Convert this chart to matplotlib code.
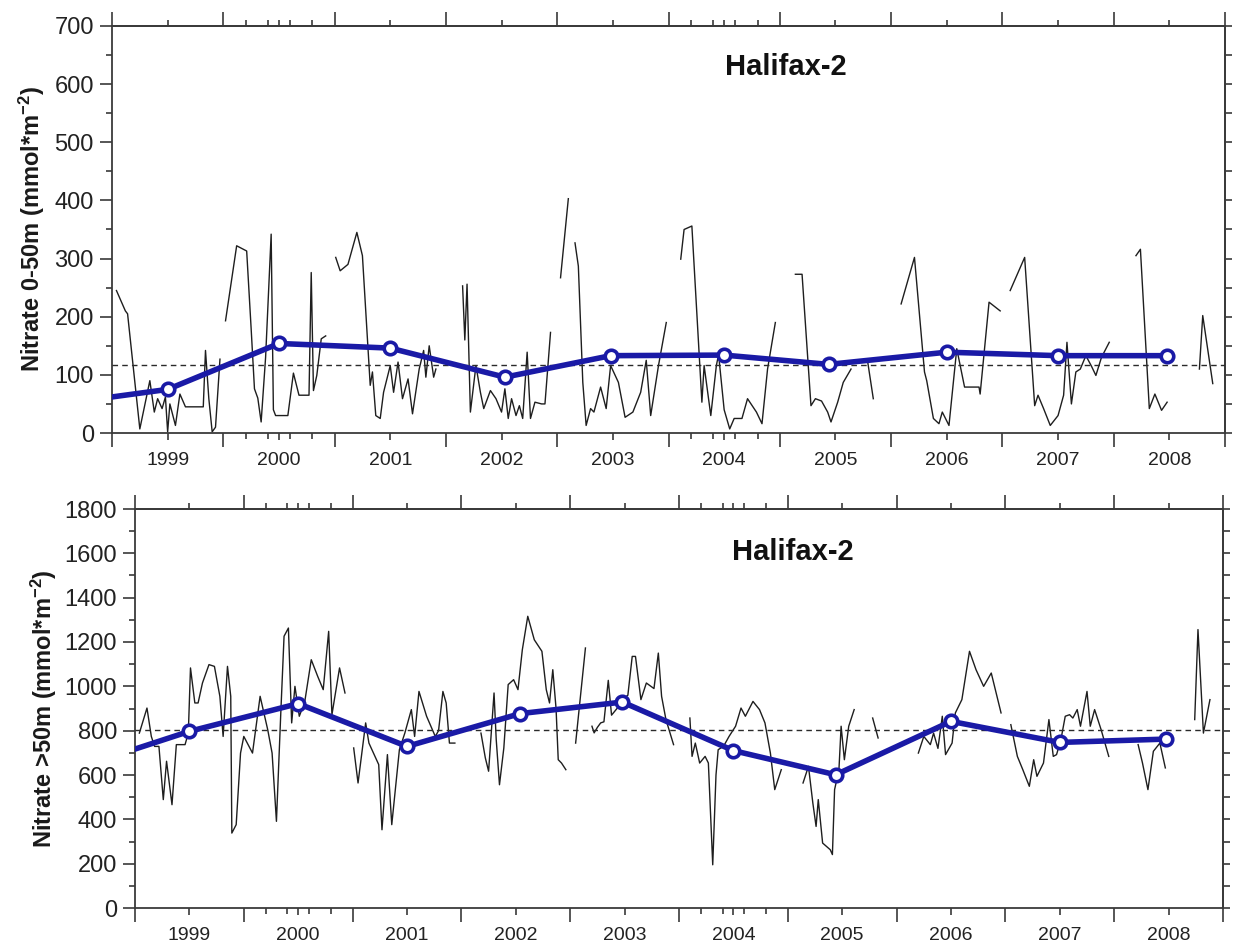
import numpy as np
import matplotlib
matplotlib.use("Agg")
import matplotlib.pyplot as plt

plt.rcParams["font.family"] = ["Liberation Sans", "DejaVu Sans"]
plt.rcParams["mathtext.fontset"] = "custom"
plt.rcParams["mathtext.rm"] = "Liberation Sans:bold"
plt.rcParams["mathtext.bf"] = "Liberation Sans:bold"
plt.rcParams["mathtext.default"] = "bf"

nan = np.nan

# ---- Nitrate 0-50 m: sampled integrals (NaN marks gaps between sampling runs)
upper_t = [1998.54, 1998.62, 1998.64, 1998.75, 1998.84, 1998.88, 1998.91, 1998.95, 1998.98, 1999.00,
           1999.02, 1999.07, 1999.11, 1999.16, 1999.32, 1999.34, 1999.37, 1999.40, 1999.43, 1999.47, nan,
           1999.52, 1999.62, 1999.71, 1999.75, 1999.78, 1999.81, 1999.84, 1999.88, 1999.93, 1999.95,
           1999.97, 2000.08, 2000.13, 2000.18, 2000.24, 2000.27, 2000.29, 2000.31, 2000.34, 2000.38,
           2000.42, nan,
           2000.51, 2000.55, 2000.62, 2000.70, 2000.75, 2000.82, 2000.84, 2000.87, 2000.91, 2000.94,
           2001.00, 2001.03, 2001.07, 2001.11, 2001.16, 2001.20, 2001.26, 2001.30, 2001.32, 2001.35,
           2001.39, 2001.41, nan,
           2001.65, 2001.67, 2001.69, 2001.72, 2001.77, 2001.81, 2001.84, 2001.90, 2001.95, 2002.00,
           2002.03, 2002.06, 2002.09, 2002.13, 2002.16, 2002.19, 2002.23, 2002.26, 2002.30, 2002.36,
           2002.39, 2002.44, nan,
           2002.53, 2002.60, nan,
           2002.66, 2002.69, 2002.73, 2002.76, 2002.80, 2002.83, 2002.89, 2002.94, 2002.98, 2003.05,
           2003.11, 2003.18, 2003.25, 2003.30, 2003.34, 2003.41, 2003.48, nan,
           2003.61, 2003.64, 2003.71, 2003.80, 2003.82, 2003.88, 2003.93, 2003.95, 2004.00, 2004.05,
           2004.09, 2004.16, 2004.21, 2004.29, 2004.34, 2004.39, 2004.46, nan,
           2004.64, 2004.70, 2004.78, 2004.82, 2004.875, 2004.93, 2004.96, 2005.02, 2005.07, 2005.14, nan,
           2005.29, 2005.34, nan,
           2005.59, 2005.71, 2005.80, 2005.82, 2005.88, 2005.93, 2005.96, 2006.02, 2006.09, 2006.16,
           2006.29, 2006.30, 2006.38, 2006.48, nan,
           2006.57, 2006.70, 2006.79, 2006.82, 2006.87, 2006.93, 2007.00, 2007.05, 2007.08, 2007.12,
           2007.16, 2007.20, 2007.25, 2007.30, 2007.34, 2007.39, 2007.46, nan,
           2007.70, 2007.74, 2007.82, 2007.87, 2007.93, 2007.98, nan,
           2008.27, 2008.30, 2008.39]
upper_v = [245, 210, 205, 7, 90, 36, 59, 42, 62, 2,
           50, 13, 67, 45, 45, 142, 59, 2, 10, 127, nan,
           193, 322, 313, 180, 76, 60, 19, 130, 342, 40,
           30, 30, 103, 65, 65, 65, 276, 73, 99, 162,
           167, nan,
           302, 279, 290, 345, 305, 82, 105, 30, 25, 70,
           116, 70, 122, 59, 93, 33, 110, 142, 96, 150,
           96, 110, nan,
           253, 160, 256, 36, 116, 70, 42, 73, 59, 36,
           76, 25, 59, 30, 47, 25, 139, 25, 53, 50,
           50, 173, nan,
           267, 403, nan,
           327, 287, 87, 13, 42, 36, 79, 42, 116, 87,
           27, 36, 70, 125, 30, 116, 190, nan,
           299, 350, 356, 53, 116, 30, 116, 135, 40, 7,
           25, 25, 59, 36, 16, 110, 190, nan,
           273, 273, 47, 59, 55, 36, 19, 53, 87, 110, nan,
           122, 59, nan,
           222, 302, 105, 90, 25, 16, 36, 13, 145, 79,
           79, 67, 225, 210, nan,
           245, 302, 47, 65, 42, 13, 30, 65, 156, 50,
           105, 110, 133, 115, 99, 130, 156, nan,
           305, 316, 42, 67, 39, 53, nan,
           110, 202, 85]

# ---- Nitrate below 50 m
deep_t = [1998.54, 1998.61, 1998.65, 1998.68, 1998.72, 1998.76, 1998.79, 1998.84, 1998.88, 1998.92,
          1998.96, 1998.99, 1999.01, 1999.05, 1999.08, 1999.12, 1999.18, 1999.23, 1999.28, 1999.31,
          1999.35, 1999.38, 1999.39, 1999.43, 1999.47, 1999.50, 1999.58, 1999.65, 1999.72, 1999.76,
          1999.80, 1999.84, 1999.87, 1999.91, 1999.94, 1999.97, 2000.01, 2000.06, 2000.12, 2000.18,
          2000.23, 2000.28, 2000.31, 2000.38, 2000.43, nan,
          2000.51, 2000.55, 2000.62, 2000.65, 2000.74, 2000.77, 2000.82, 2000.86, 2000.93, 2000.98,
          2001.04, 2001.07, 2001.11, 2001.18, 2001.26, 2001.29, 2001.33, 2001.36, 2001.39, 2001.44, nan,
          2001.68, 2001.72, 2001.75, 2001.80, 2001.82, 2001.85, 2001.89, 2001.93, 2001.98, 2002.02,
          2002.06, 2002.11, 2002.17, 2002.24, 2002.28, 2002.31, 2002.34, 2002.37, 2002.39, 2002.42,
          2002.46, nan,
          2002.55, 2002.64, nan,
          2002.70, 2002.72, 2002.75, 2002.78, 2002.81, 2002.85, 2002.88, 2002.93, 2002.98, 2003.03,
          2003.07, 2003.10, 2003.15, 2003.20, 2003.27, 2003.31, 2003.34, 2003.38, 2003.45, nan,
          2003.60, 2003.62, 2003.65, 2003.69, 2003.74, 2003.77, 2003.81, 2003.84, 2003.86, 2003.91,
          2003.96, 2004.02, 2004.07, 2004.11, 2004.18, 2004.24, 2004.29, 2004.34, 2004.38, 2004.44, nan,
          2004.64, 2004.69, 2004.73, 2004.76, 2004.78, 2004.82, 2004.89, 2004.91, 2004.93, 2004.97,
          2004.99, 2005.02, 2005.06, 2005.11, nan,
          2005.28, 2005.33, nan,
          2005.70, 2005.75, 2005.81, 2005.84, 2005.88, 2005.92, 2005.95, 2006.01, 2006.04, 2006.10,
          2006.17, 2006.23, 2006.30, 2006.37, 2006.46, nan,
          2006.55, 2006.61, 2006.66, 2006.72, 2006.76, 2006.79, 2006.85, 2006.90, 2006.94, 2006.97,
          2007.01, 2007.05, 2007.09, 2007.12, 2007.16, 2007.19, 2007.25, 2007.28, 2007.32, 2007.38,
          2007.45, nan,
          2007.72, 2007.76, 2007.81, 2007.86, 2007.92, 2007.97, nan,
          2008.24, 2008.27, 2008.32, 2008.38]
deep_v = [789, 902, 774, 729, 729, 489, 662, 466, 737, 737,
          737, 789, 1083, 925, 925, 1015, 1098, 1090, 955, 774,
          1090, 955, 338, 376, 699, 774, 699, 955, 804, 699,
          391, 880, 1226, 1263, 835, 1000, 865, 930, 1120, 1044,
          985, 1248, 872, 1083, 970, nan,
          722, 564, 835, 744, 647, 353, 692, 376, 714, 789,
          895, 774, 977, 865, 774, 800, 977, 925, 744, 744, nan,
          789, 677, 617, 970, 760, 556, 722, 1008, 1030, 985,
          1165, 1316, 1210, 1158, 985, 925, 1075, 900, 669, 654,
          624, nan,
          744, 1173, nan,
          820, 790, 815, 835, 840, 1027, 870, 900, 940, 960,
          1135, 1135, 940, 1015, 990, 1150, 955, 850, 737, nan,
          857, 684, 744, 654, 684, 654, 195, 600, 714, 730,
          774, 820, 902, 865, 932, 895, 835, 699, 534, 624, nan,
          564, 639, 474, 368, 489, 293, 263, 241, 534, 624,
          820, 669, 820, 895, nan,
          857, 767, nan,
          699, 774, 737, 789, 720, 865, 692, 744, 880, 940,
          1158, 1075, 1000, 1060, 880, nan,
          827, 684, 624, 549, 669, 594, 654, 850, 684, 692,
          759, 865, 872, 857, 895, 820, 977, 820, 895, 804,
          684, nan,
          737, 654, 534, 707, 744, 632, nan,
          850, 1256, 789, 940]

# ---- Annual means and long-term reference levels
upper_mean_t = [1998.0, 1999.0, 2000.0, 2001.0, 2002.03, 2002.98, 2004.0, 2004.94, 2006.0, 2007.0, 2007.98]
upper_mean_v = [49, 75, 154, 146, 96, 133, 134, 118, 139, 133, 133]
deep_mean_t = [1998.0, 1999.0, 2000.0, 2001.0, 2002.04, 2002.98, 2004.0, 2004.94, 2006.0, 2007.0, 2007.98]
deep_mean_v = [637, 797, 922, 729, 877, 929, 710, 601, 842, 747, 762]
upper_ref = 117
deep_ref = 802

year_ticks = list(range(1999, 2009))
year_labels = [str(y) for y in year_ticks]
half_ticks = [y - 0.5 for y in range(1999, 2010)]
extra_ticks = [1999.7, 1999.9, 2000.1, 2000.3, 2003.7, 2003.9, 2004.1, 2004.3]

W, H = 1235, 947
fig = plt.figure(figsize=(W / 100, H / 100), dpi=100)

BLUE = "#1a1aa6"
SPINE = "#3a3a3a"


def frac(x0, y0, x1, y1):
    return [x0 / W, 1 - y1 / H, (x1 - x0) / W, (y1 - y0) / H]


def build(rect, t, v, mt, mv, ref, ymax, ymajor, yminor, rstep, ylabel, title_y, label_x):
    ax = fig.add_axes(rect)
    ax.plot(t, v, color="#1e1e1e", lw=1.0, zorder=2)
    ax.axhline(ref, color="#2a2a2a", lw=1.0, ls=(0, (4, 3)), zorder=3)
    ax.plot(mt, mv, color=BLUE, lw=4.0, marker="o", ms=9, mfc="white",
            mec=BLUE, mew=2.6, zorder=4, solid_joinstyle="round")
    ax.set_xlim(1998.5, 2008.5)
    ax.set_ylim(0, ymax)

    ax.set_xticks(year_ticks)
    ax.set_xticklabels(year_labels)
    ax.set_xticks(half_ticks, minor=True)
    ax.set_yticks(np.arange(0, ymax + 1, ymajor))
    ax.set_yticks(np.arange(0, ymax + 1, yminor), minor=True)

    ax.tick_params(axis="x", which="major", direction="out", length=5, width=1.2,
                   color=SPINE, labelsize=14, pad=9, labelcolor="#222222")
    ax.tick_params(axis="x", which="minor", direction="out", length=10, width=1.2, color=SPINE)
    ax.tick_params(axis="y", which="major", direction="out", length=9, width=1.2,
                   color=SPINE, labelsize=17, pad=4, labelcolor="#222222")
    ax.tick_params(axis="y", which="minor", direction="out", length=4, width=1.2, color=SPINE)
    for s in ax.spines.values():
        s.set_color(SPINE)
        s.set_linewidth(1.3)

    # top edge: long ticks at year boundaries, short ones at mid-year and extra marks
    top = ax.secondary_xaxis("top")
    top.set_xticks(half_ticks)
    top.set_xticks(year_ticks + extra_ticks, minor=True)
    top.tick_params(which="major", direction="out", length=10, width=1.2, color=SPINE,
                    labeltop=False)
    top.tick_params(which="minor", direction="out", length=4, width=1.2, color=SPINE)
    top.spines["top"].set_color(SPINE)
    top.spines["top"].set_linewidth(1.3)

    bot = ax.secondary_xaxis("bottom")
    bot.set_xticks(extra_ticks)
    bot.tick_params(which="major", direction="out", length=4, width=1.2, color=SPINE,
                    labelbottom=False)
    bot.xaxis.set_minor_locator(matplotlib.ticker.NullLocator())
    bot.spines["bottom"].set_visible(False)

    right = ax.secondary_yaxis("right")
    right.set_yticks(np.arange(0, ymax + 1, rstep))
    right.yaxis.set_minor_locator(matplotlib.ticker.NullLocator())
    right.tick_params(which="major", direction="out", length=5, width=1.2, color=SPINE,
                      labelright=False)
    right.spines["right"].set_color(SPINE)
    right.spines["right"].set_linewidth(1.3)

    ax.set_ylabel(ylabel, fontsize=17, fontweight="bold", color="#1a1a1a")
    ax.yaxis.set_label_coords(label_x, 0.5)
    ax.text(2004.55, title_y, "Halifax-2", fontsize=21, fontweight="bold",
            ha="center", va="center", color="#111111")
    return ax


build(frac(112, 26, 1225, 433), upper_t, upper_v, upper_mean_t, upper_mean_v, upper_ref,
      700, 100, 50, 50, "Nitrate 0-50m (mmol*m$^{-2}$)", 629, -0.058)
build(frac(135, 509, 1223, 908), deep_t, deep_v, deep_mean_t, deep_mean_v, deep_ref,
      1800, 200, 100, 100, "Nitrate >50m (mmol*m$^{-2}$)", 1606, -0.07)

fig.savefig("out.png", dpi=100, facecolor="white")
